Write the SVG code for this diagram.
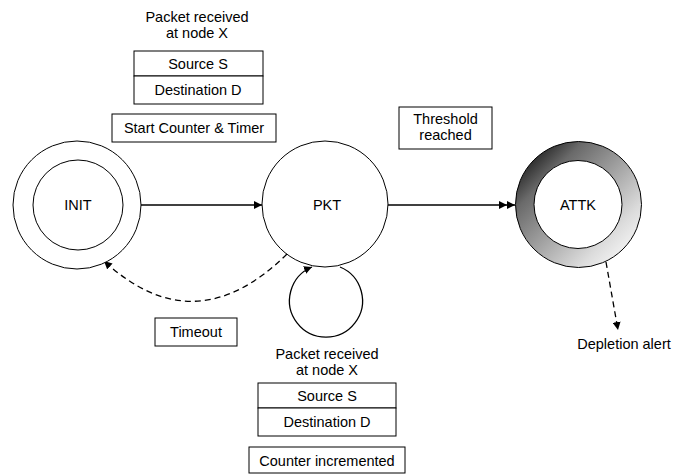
<svg xmlns="http://www.w3.org/2000/svg" width="686" height="476" viewBox="0 0 686 476">
<defs>
<marker id="ah" viewBox="0 0 10 10" refX="10" refY="5" markerWidth="8" markerHeight="8" markerUnits="userSpaceOnUse" orient="auto">
<path d="M0,0 L10,5 L0,10 z" fill="#000"/>
</marker>
<marker id="ah2" viewBox="0 0 20 10" refX="20" refY="5" markerWidth="16" markerHeight="8" markerUnits="userSpaceOnUse" orient="auto">
<path d="M0,0 L10,5 L0,10 z M10,0 L20,5 L10,10 z" fill="#000"/>
</marker>
<linearGradient id="grad" x1="0.15" y1="0.15" x2="0.95" y2="0.95">
<stop offset="0" stop-color="#333"/>
<stop offset="0.15" stop-color="#6a6a6a"/>
<stop offset="0.75" stop-color="#dcdcdc"/>
<stop offset="1" stop-color="#fff"/>
</linearGradient>
</defs>
<style>
text{font-family:"Liberation Sans",Arial,sans-serif;font-size:14.5px;fill:#000;text-anchor:middle}
.node{fill:#fff;stroke:#000;stroke-width:1}
.box{fill:#fff;stroke:#000;stroke-width:1}
.edge{fill:none;stroke:#000;stroke-width:1.3}
.dash{stroke-dasharray:6,4}
</style>
<rect width="686" height="476" fill="#fff"/>

<g id="connectors">
<line class="edge" x1="141" y1="205" x2="262" y2="205" marker-end="url(#ah)"/>
<line class="edge" x1="388" y1="205" x2="515" y2="205" marker-end="url(#ah2)"/>
<path class="edge dash" d="M287,254 Q195,345 104,261" marker-end="url(#ah)"/>
<path class="edge" d="M340,267 A36.5,36.5 0 1 1 312,267" marker-end="url(#ah)"/>
<line class="edge dash" x1="606" y1="262" x2="618" y2="330" marker-end="url(#ah)"/>
</g>

<g id="node-init">
<circle class="node" cx="77" cy="205" r="64"/>
<circle class="node" cx="78" cy="205" r="45"/>
<text x="78" y="210">INIT</text>
</g>

<g id="node-pkt">
<circle class="node" cx="325" cy="204" r="63"/>
<text x="327" y="210">PKT</text>
</g>

<g id="node-attk">
<circle cx="578.5" cy="204.5" r="63" fill="url(#grad)" stroke="#000" stroke-width="1"/>
<circle class="node" cx="578" cy="204.5" r="44"/>
<text x="578" y="210">ATTK</text>
</g>

<g id="label-top">
<text x="197" y="22">Packet received</text>
<text x="197" y="38">at node X</text>
<rect class="box" x="134" y="51" width="129" height="25"/>
<rect class="box" x="134" y="76" width="129" height="28"/>
<text x="198" y="69">Source S</text>
<text x="198" y="95">Destination D</text>
<rect class="box" x="112" y="114" width="164" height="28"/>
<text x="194" y="133">Start Counter &amp; Timer</text>
</g>

<g id="label-threshold">
<rect class="box" x="399" y="107" width="93" height="42"/>
<text x="445.5" y="124">Threshold</text>
<text x="445.5" y="140">reached</text>
</g>

<g id="label-timeout">
<rect class="box" x="155" y="318" width="82" height="28"/>
<text x="196" y="337">Timeout</text>
</g>

<g id="label-bottom">
<text x="327" y="359">Packet received</text>
<text x="327" y="375">at node X</text>
<rect class="box" x="258" y="383" width="138" height="25"/>
<rect class="box" x="258" y="408" width="138" height="28"/>
<text x="327" y="401">Source S</text>
<text x="327" y="427">Destination D</text>
<rect class="box" x="249" y="447" width="156" height="26"/>
<text x="327" y="466">Counter incremented</text>
</g>

<g id="label-depletion">
<text x="624" y="349">Depletion alert</text>
</g>
</svg>
